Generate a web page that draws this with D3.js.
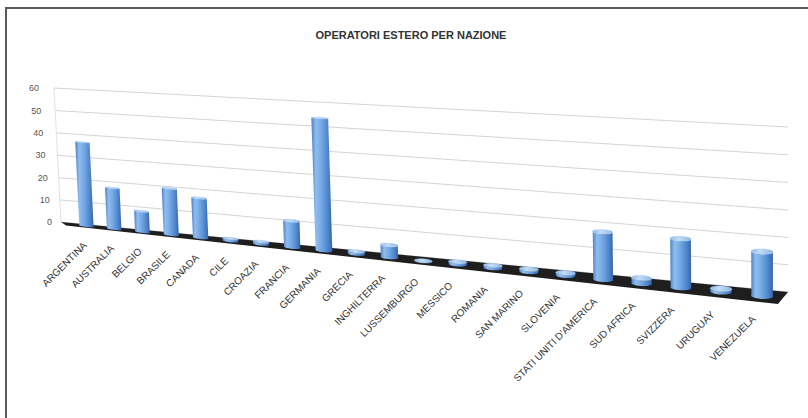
<!DOCTYPE html>
<html>
<head>
<meta charset="utf-8">
<script src="https://cdn.jsdelivr.net/npm/d3@7/dist/d3.min.js"></script>
<style>
  html, body { margin: 0; padding: 0; background: #fff; }
  svg { display: block; }
</style>
</head>
<body>
<script>
// Operatori esteri per nazione: 3D perspective column chart
const title = "OPERATORI ESTERO PER NAZIONE";
const categories = ["ARGENTINA", "AUSTRALIA", "BELGIO", "BRASILE", "CANADA", "CILE", "CROAZIA",
  "FRANCIA", "GERMANIA", "GRECIA", "INGHILTERRA", "LUSSEMBURGO", "MESSICO", "ROMANIA",
  "SAN MARINO", "SLOVENIA", "STATI UNITI D'AMERICA", "SUD AFRICA", "SVIZZERA", "URUGUAY", "VENEZUELA"];
const values = [37, 18, 9, 20, 17, 1, 1, 11, 54, 1, 5, 0, 1, 1, 1, 1, 18, 2, 18, 1, 16];
const valueTicks = [0, 10, 20, 30, 40, 50, 60];

const W = 808, H = 418;
const svg = d3.select("body").append("svg").attr("width", W).attr("height", H);

// World coordinates: X along categories [0,1], Y value [0,1], Z depth [0 = back wall, 1 = floor front]
const xScale = d3.scaleBand().domain(categories).range([0.016, 1]).padding(0);
const yScale = d3.scaleLinear().domain([0, 60]).range([0, 1]);

// Solve a plane homography from four corner correspondences
function solveHomography(src, dst) {
  const A = [], b = [];
  src.forEach(([x, y], i) => {
    const [u, v] = dst[i];
    A.push([x, y, 1, 0, 0, 0, -x * u, -y * u]); b.push(u);
    A.push([0, 0, 0, x, y, 1, -x * v, -y * v]); b.push(v);
  });
  const n = 8;
  for (let c = 0; c < n; c++) {
    let p = c;
    for (let r = c + 1; r < n; r++) if (Math.abs(A[r][c]) > Math.abs(A[p][c])) p = r;
    [A[c], A[p]] = [A[p], A[c]]; [b[c], b[p]] = [b[p], b[c]];
    for (let r = 0; r < n; r++) {
      if (r === c) continue;
      const f = A[r][c] / A[c][c];
      for (let k = c; k < n; k++) A[r][k] -= f * A[c][k];
      b[r] -= f * b[c];
    }
  }
  const hh = b.map((v, i) => v / A[i][i]);
  return (x, y) => {
    const w = hh[6] * x + hh[7] * y + 1;
    return [(hh[0] * x + hh[1] * y + hh[2]) / w, (hh[3] * x + hh[4] * y + hh[5]) / w];
  };
}

const unit = [[0, 0], [0, 1], [1, 0], [1, 1]];
// back wall plane and front edge plane of the floor
const back = solveHomography(unit, [[61, 222], [54, 88], [788, 292], [788, 127]]);
const front = solveHomography(unit, [[66, 225.5], [59.5, 88.5], [778, 304], [778, 132]]);

function P(X, Y, Z) {
  const a = back(X, Y), b = front(X, Y);
  return [a[0] + (b[0] - a[0]) * Z, a[1] + (b[1] - a[1]) * Z];
}

// Frame
svg.append("line").attr("x1", 5).attr("x2", W).attr("y1", 8).attr("y2", 8)
  .attr("stroke", "#5a5a5a").attr("stroke-width", 2);
svg.append("line").attr("x1", 6).attr("x2", 6).attr("y1", 7).attr("y2", H)
  .attr("stroke", "#5a5a5a").attr("stroke-width", 2);

// Title
svg.append("text").attr("x", 411).attr("y", 39).attr("text-anchor", "middle")
  .attr("font-family", "Liberation Sans, Arial, sans-serif").attr("font-size", 11)
  .attr("font-weight", "bold").attr("fill", "#333").text(title);

const line = d3.line();

// Back wall gridlines
svg.append("g").selectAll("path").data(valueTicks).join("path")
  .attr("d", t => line([P(0, yScale(t), 0), P(1, yScale(t), 0)]))
  .attr("fill", "none").attr("stroke", "#d4d4d4").attr("stroke-width", 1);

// Vertical wall edge
svg.append("path").attr("d", line([P(0, 0, 0), P(0, 1, 0)]))
  .attr("stroke", "#e2e2e2").attr("fill", "none");

// Value labels
svg.append("g").selectAll("text").data(valueTicks).join("text")
  .attr("x", t => P(0, yScale(t), 0)[0] - 9 - t * 0.1)
  .attr("y", t => P(0, yScale(t), 0)[1])
  .attr("dy", "0.35em").attr("text-anchor", "end")
  .attr("font-family", "Liberation Sans, Arial, sans-serif").attr("font-size", 9)
  .attr("fill", "#555").text(t => t);

// Floor
svg.append("path")
  .attr("d", line([P(0, 0, 0), P(1, 0, 0), P(1, 0, 1), P(0, 0, 1)]) + "Z")
  .attr("fill", "#1e1e1e");

// Gradients for the cylinders
const defs = svg.append("defs");
const g = defs.append("linearGradient").attr("id", "body").attr("x1", 0).attr("x2", 1).attr("y1", 0).attr("y2", 0);
[["0%", "#4b80c4"], ["22%", "#8ebdee"], ["45%", "#78aae5"], ["78%", "#4f86cd"], ["100%", "#3466aa"]]
  .forEach(([o, c]) => g.append("stop").attr("offset", o).attr("stop-color", c));
const gc = defs.append("linearGradient").attr("id", "cap").attr("x1", 0).attr("x2", 1);
[["0%", "#8fb8e6"], ["40%", "#c4ddf6"], ["100%", "#8db6e4"]]
  .forEach(([o, c]) => gc.append("stop").attr("offset", o).attr("stop-color", c));

// Cylinders
const rx = xScale.bandwidth() * 0.26, rz = 0.25, zc = 0.5;
const steps = d3.range(0, 25).map(k => k / 24);
const bars = svg.append("g");
categories.forEach((cat, i) => {
  const X = xScale(cat) + xScale.bandwidth() / 2;
  const Y = yScale(values[i]);
  const ring = (y, a0, a1) => steps.map(s => {
    const th = a0 + (a1 - a0) * s;
    return P(X + rx * Math.cos(th), y, zc + rz * Math.sin(th));
  });
  const body = ring(0, Math.PI, 0).concat(ring(Y, 0, Math.PI));
  bars.append("path").attr("d", line(body) + "Z").attr("fill", "url(#body)");
  bars.append("path").attr("d", line(ring(Y, 0, 2 * Math.PI)) + "Z")
    .attr("fill", "url(#cap)").attr("stroke", "#a7c8ee").attr("stroke-width", 0.5);
});

// Category labels
svg.append("g").selectAll("text").data(categories).join("text")
  .attr("transform", d => {
    const p = P(xScale(d) + xScale.bandwidth() / 2, 0, 1);
    return `translate(${p[0] - 1},${p[1] + 18}) rotate(-45)`;
  })
  .attr("text-anchor", "end")
  .attr("font-family", "Liberation Sans, Arial, sans-serif").attr("font-size", 10)
  .attr("fill", "#333").text(d => d);
</script>
</body>
</html>
